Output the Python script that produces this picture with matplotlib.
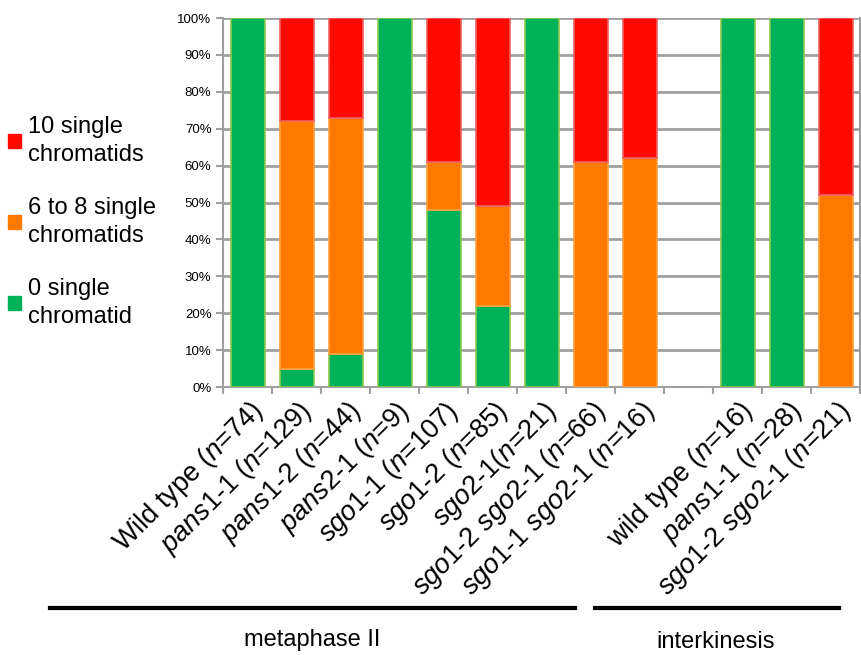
import numpy as np
import matplotlib
matplotlib.use("Agg")
import matplotlib.pyplot as plt
from matplotlib.lines import Line2D
from matplotlib.patches import Patch

plt.rcParams['font.family'] = ['Liberation Sans', 'DejaVu Sans']
plt.rcParams['mathtext.fontset'] = 'custom'
plt.rcParams['mathtext.it'] = 'Liberation Sans:italic'
plt.rcParams['mathtext.rm'] = 'Liberation Sans'

# data (percent), '' slot = gap between the two stages
labels = [
    r"Wild type ($\it{n}$=74)",
    r"$\it{pans1}$-$\it{1}$ ($\it{n}$=129)",
    r"$\it{pans1}$-$\it{2}$ ($\it{n}$=44)",
    r"$\it{pans2}$-$\it{1}$ ($\it{n}$=9)",
    r"$\it{sgo1}$-$\it{1}$ ($\it{n}$=107)",
    r"$\it{sgo1}$-$\it{2}$ ($\it{n}$=85)",
    r"$\it{sgo2}$-$\it{1}$($\it{n}$=21)",
    r"$\it{sgo1}$-$\it{2}$ $\it{sgo2}$-$\it{1}$ ($\it{n}$=66)",
    r"$\it{sgo1}$-$\it{1}$ $\it{sgo2}$-$\it{1}$ ($\it{n}$=16)",
    "",
    r"wild type ($\it{n}$=16)",
    r"$\it{pans1}$-$\it{1}$ ($\it{n}$=28)",
    r"$\it{sgo1}$-$\it{2}$ $\it{sgo2}$-$\it{1}$ ($\it{n}$=21)",
]
zero_single = [100, 5, 9, 100, 48, 22, 100, 0, 0, 0, 100, 100, 0]
six_to_eight = [0, 67, 64, 0, 13, 27, 0, 61, 62, 0, 0, 0, 52]
ten_single = [0, 28, 27, 0, 39, 51, 0, 39, 38, 0, 0, 0, 48]

green, orange, red = '#00B15A', '#FF7800', '#FF0A00'

fig = plt.figure(figsize=(8.62, 6.55), dpi=100)
ax = fig.add_axes([0.259, 0.409, 0.739, 0.5635])

x = np.arange(len(labels))
g = np.array(zero_single)
o = np.array(six_to_eight)
r = np.array(ten_single)
w = 0.7
lw = lambda v: np.where(v > 0, 1.2, 0)
ax.bar(x, g, w, color=green, edgecolor='#8CC850', linewidth=lw(g), zorder=3)
ax.bar(x, o, w, bottom=g, color=orange, edgecolor='#FFA040', linewidth=lw(o), zorder=3)
ax.bar(x, r, w, bottom=g + o, color=red, edgecolor='#F06060', linewidth=lw(r), zorder=3)

ax.set_xlim(-0.5, len(labels) - 0.5)
ax.set_ylim(0, 100)
ax.set_yticks(np.arange(0, 101, 10))
ax.set_yticklabels([f"{v}%" for v in range(0, 101, 10)], fontsize=9.5)
ax.yaxis.grid(True, color='#A0A0A0', linewidth=2, zorder=0)
ax.set_axisbelow(True)

ax.set_xticks(x)
ax.set_xticklabels(labels, rotation=45, ha='right', rotation_mode='anchor', fontsize=19.5)
ax.tick_params(axis='x', length=0, pad=7)
ax.set_xticks(np.arange(-0.5, len(labels)), minor=True)
ax.tick_params(axis='x', which='minor', length=5, color='#A0A0A0', width=1.5)
ax.tick_params(axis='y', length=5, color='#A0A0A0', width=1.5)

ax.spines['top'].set_visible(False)
for s in ['left', 'bottom', 'right']:
    ax.spines[s].set_color('#A0A0A0')
    ax.spines[s].set_linewidth(1.5)

# legend
handles = [Patch(color=red), Patch(color=orange), Patch(color=green)]
names = ['10 single\nchromatids', '6 to 8 single\nchromatids', '0 single\nchromatid']
leg = fig.legend(handles, names, loc='upper left', bbox_to_anchor=(-0.002, 0.838),
                 frameon=False, fontsize=17, handlelength=0.55, handleheight=0.55,
                 handletextpad=0.3, labelspacing=1.33, borderaxespad=0)
for t in leg.get_texts():
    t.set_linespacing(1.35)

# stage brackets
fig.add_artist(Line2D([0.058, 0.667], [0.071, 0.071], color='black', lw=3))
fig.add_artist(Line2D([0.69, 0.973], [0.071, 0.071], color='black', lw=3))
fig.text(0.362, 0.013, 'metaphase II', ha='center', fontsize=17)
fig.text(0.83, 0.01, 'interkinesis', ha='center', fontsize=17)

fig.savefig('out.png', dpi=100)
